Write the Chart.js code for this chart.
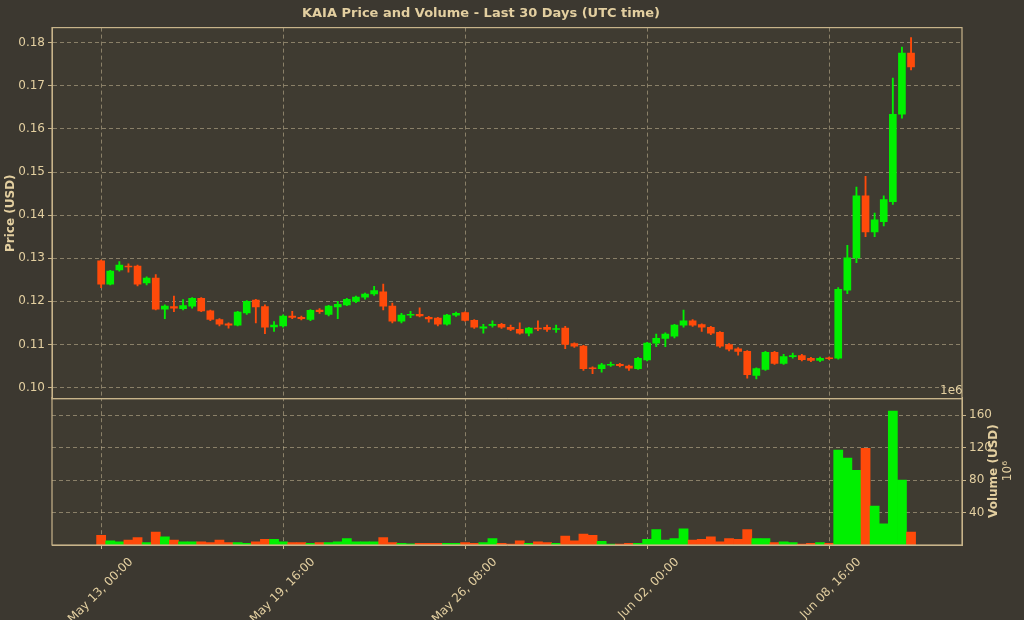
<!DOCTYPE html>
<html>
<head>
<meta charset="utf-8">
<script src="https://cdn.jsdelivr.net/npm/chart.js@4"></script>
<style>
  html, body { margin: 0; padding: 0; background: #3c3830; }
  #wrap { position: relative; width: 1024px; height: 620px; overflow: hidden; }
  canvas { position: absolute; left: 0; }
</style>
</head>
<body>
<div id="wrap">
  <canvas id="volume" width="1024" height="233" style="top:387px"></canvas>
  <canvas id="price" width="1024" height="409" style="top:0"></canvas>
</div>
<script>
// 8-hour candles, index 0 = May 13, 00:00 UTC
var opens = [.1294,.1240,.1273,.1282,.1282,.1243,.1254,.1182,.1188,.1183,.1189,.1207,.1178,.1158,.1148,.1145,.1173,.1203,.1188,.1141,
  .1143,.1166,.1163,.1158,.1180,.1170,.1187,.1192,.1200,.1210,.1217,.1222,.1189,.1154,.1168,.1170,.1163,.1161,.1147,.1168,
  .1174,.1156,.1138,.1144,.1147,.1140,.1135,.1126,.1138,.1140,.1135,.1138,.1102,.1096,.1046,.1044,.1052,.1054,.1050,.1044,
  .1064,.1103,.1114,.1119,.1145,.1155,.1146,.1140,.1128,.1100,.1090,.1084,.1028,.1042,.1082,.1056,.1072,.1074,.1068,.1063,
  .1069,.1068,.1226,.1301,.1445,.1361,.1385,.1431,.1634,.1776];
var closes = [.1240,.1270,.1284,.1280,.1240,.1254,.1182,.1189,.1184,.1190,.1207,.1178,.1158,.1147,.1145,.1175,.1200,.1187,.1140,.1145,
  .1166,.1163,.1160,.1179,.1176,.1189,.1193,.1205,.1210,.1217,.1225,.1189,.1154,.1168,.1170,.1166,.1159,.1147,.1168,.1172,
  .1156,.1140,.1141,.1147,.1140,.1135,.1126,.1138,.1136,.1135,.1137,.1100,.1096,.1044,.1044,.1053,.1054,.1051,.1045,.1068,
  .1103,.1114,.1124,.1145,.1155,.1145,.1140,.1126,.1096,.1089,.1084,.1030,.1044,.1082,.1056,.1072,.1074,.1065,.1063,.1068,
  .1067,.1228,.1301,.1445,.1361,.1389,.1436,.1634,.1776,.1744];
var highs = [.1296,.1272,.1292,.1287,.1284,.1257,.1262,.1192,.1212,.1204,.1209,.1209,.1180,.1160,.1150,.1177,.1202,.1205,.1192,.1153,
  .1169,.1177,.1166,.1181,.1183,.1191,.1200,.1207,.1212,.1219,.1235,.1240,.1196,.1172,.1177,.1185,.1165,.1163,.1170,.1175,
  .1176,.1158,.1147,.1155,.1149,.1145,.1150,.1140,.1155,.1145,.1145,.1142,.1104,.1098,.1048,.1056,.1059,.1056,.1052,.1070,
  .1105,.1124,.1127,.1147,.1180,.1158,.1148,.1142,.1130,.1102,.1093,.1086,.1046,.1084,.1084,.1077,.1080,.1077,.1070,.1071,
  .1071,.1232,.1330,.1465,.1490,.1405,.1445,.1718,.1790,.1812];
var lows = [.1232,.1238,.1270,.1268,.1236,.1238,.1180,.1160,.1176,.1180,.1184,.1176,.1155,.1143,.1138,.1143,.1170,.1150,.1125,.1130,
  .1140,.1160,.1157,.1155,.1172,.1166,.1160,.1190,.1197,.1205,.1214,.1180,.1150,.1150,.1162,.1164,.1152,.1143,.1145,.1165,
  .1154,.1137,.1126,.1140,.1137,.1132,.1124,.1120,.1132,.1130,.1128,.1090,.1093,.1040,.1032,.1036,.1049,.1048,.1040,.1042,
  .1062,.1095,.1095,.1115,.1140,.1142,.1130,.1123,.1093,.1085,.1075,.1022,.1020,.1040,.1054,.1054,.1068,.1062,.1060,.1060,
  .1065,.1066,.1218,.1290,.1350,.1350,.1375,.1425,.1625,.1737];
// volume in millions of USD
var volumes = [12,5,4,6,9,3,16,10,6,4,4,4,3,6,3,3,2,4,7,7,
  4,3,3,2,3,3,4,8,4,4,4,9,3,2,1.5,2,2,2,2,2,
  3,2,3,8,2,1,5,2,4,3,2,11,5,13.5,12,4.5,1,1,2,2,
  7,19,6,8,20,6,7,10,4,8,7,19,8,8,3,4,3,1,2,3,
  2,117,107,92,119,48,26,165,80,16];
var tickIndex = [0, 20, 40, 60, 80];
var tickLabels = ['May 13, 00:00', 'May 19, 16:00', 'May 26, 08:00', 'Jun 02, 00:00', 'Jun 08, 16:00'];
var priceTicks = [0.10, 0.11, 0.12, 0.13, 0.14, 0.15, 0.16, 0.17, 0.18];
var volumeTicks = [40, 80, 120, 160];

var GREEN = '#00f000';
var RED = '#ff4a0a';
var TEXT = '#e3cfa0';
var GRID = 'rgba(200,185,150,0.55)';
var BORDER = '#c8b48a';

var colors = closes.map(function (c, i) { return c >= opens[i] ? GREEN : RED; });
var bodies = opens.map(function (o, i) { return { x: i, y: [o, closes[i]] }; });
var wicks = lows.map(function (l, i) { return { x: i, y: [l, highs[i]] }; });
var vols = volumes.map(function (v, i) { return { x: i, y: v }; });

var XMIN = -5.4, XMAX = 94.6;

function xAxis(showLabels) {
    return {
        type: 'linear', min: XMIN, max: XMAX, offset: false,
        afterBuildTicks: function (axis) {
            axis.ticks = tickIndex.map(function (v) { return { value: v }; });
        },
        afterFit: function (axis) { axis.height = showLabels ? 75 : 0; },
        ticks: {
            display: showLabels, color: TEXT, font: { size: 12 },
            maxRotation: 45, minRotation: 45, autoSkip: false, labelOffset: 30, padding: 6,
            callback: function (v) { return tickLabels[tickIndex.indexOf(v)]; }
        },
        grid: { color: GRID, offset: false, drawTicks: showLabels, tickLength: 4, tickColor: BORDER },
        border: { color: BORDER, dash: [4, 3], display: true }
    };
}

var dashGrid = { color: GRID, tickColor: BORDER, tickLength: 4 };

Chart.defaults.font.family = 'DejaVu Sans';
Chart.defaults.animation = false;

var frame = {
    id: 'frame',
    beforeDraw: function (chart) {
        var a = chart.chartArea, ctx = chart.ctx;
        ctx.save();
        if (chart.canvas.id === 'volume') {
            ctx.fillStyle = '#3c3830';
            ctx.fillRect(0, 0, chart.width, chart.height);
        } else {
            ctx.fillStyle = '#3c3830';
            ctx.fillRect(0, 0, chart.width, 397);
        }
        ctx.fillStyle = '#3f3b31';
        ctx.fillRect(a.left, a.top, a.right - a.left, a.bottom - a.top);
        ctx.restore();
    },
    afterDraw: function (chart) {
        var a = chart.chartArea, ctx = chart.ctx;
        ctx.save();
        ctx.strokeStyle = BORDER;
        ctx.lineWidth = 1.2;
        ctx.strokeRect(a.left, a.top, a.right - a.left, a.bottom - a.top);
        ctx.fillStyle = TEXT;
        if (chart.canvas.id === 'price') {
            ctx.font = '12px DejaVu Sans';
            ctx.textAlign = 'left';
            ctx.fillText('1e6', 940, 394);
        } else {
            ctx.translate(997, (a.top + a.bottom) / 2);
            ctx.rotate(-Math.PI / 2);
            ctx.textAlign = 'center';
            ctx.font = 'bold 12px DejaVu Sans';
            ctx.fillText('Volume (USD)', 0, 0);
            ctx.font = '12px DejaVu Sans';
            ctx.fillText('10⁶', 0, 14);
        }
        ctx.restore();
    }
};

new Chart(document.getElementById('price'), {
    type: 'bar',
    data: {
        datasets: [
            { data: wicks, backgroundColor: colors, barThickness: 1.2, grouped: false, order: 2 },
            { data: bodies, backgroundColor: colors, barThickness: 7, grouped: false, order: 1 }
        ]
    },
    options: {
        responsive: false,
        layout: { padding: { right: 62, top: 0 } },
        plugins: {
            legend: { display: false },
            tooltip: { enabled: false },
            title: {
                display: true, text: 'KAIA Price and Volume - Last 30 Days (UTC time)',
                color: TEXT, font: { size: 13, weight: 'bold' }, padding: { top: 6, bottom: 6 }
            }
        },
        scales: {
            x: xAxis(false),
            y: {
                min: 0.0974, max: 0.1835,
                afterBuildTicks: function (axis) {
                    axis.ticks = priceTicks.map(function (v) { return { value: v }; });
                },
                afterFit: function (axis) { axis.width = 52; },
                ticks: { color: TEXT, font: { size: 12 }, callback: function (v) { return v.toFixed(2); } },
                title: { display: true, text: 'Price (USD)', color: TEXT, font: { size: 12, weight: 'bold' } },
                grid: dashGrid,
                border: { color: BORDER, dash: [4, 3] }
            }
        }
    },
    plugins: [frame]
});

new Chart(document.getElementById('volume'), {
    type: 'bar',
    data: {
        datasets: [{ data: vols, backgroundColor: colors, barThickness: 9.1 }]
    },
    options: {
        responsive: false,
        layout: { padding: { left: 52 } },
        plugins: { legend: { display: false }, tooltip: { enabled: false } },
        scales: {
            x: xAxis(true),
            y: {
                position: 'right', min: 0, max: 182,
                afterBuildTicks: function (axis) {
                    axis.ticks = volumeTicks.map(function (v) { return { value: v }; });
                },
                afterFit: function (axis) { axis.width = 62; },
                ticks: { color: TEXT, font: { size: 12 } },
                grid: dashGrid,
                border: { color: BORDER, dash: [4, 3] }
            }
        }
    },
    plugins: [frame]
});
</script>
</body>
</html>
